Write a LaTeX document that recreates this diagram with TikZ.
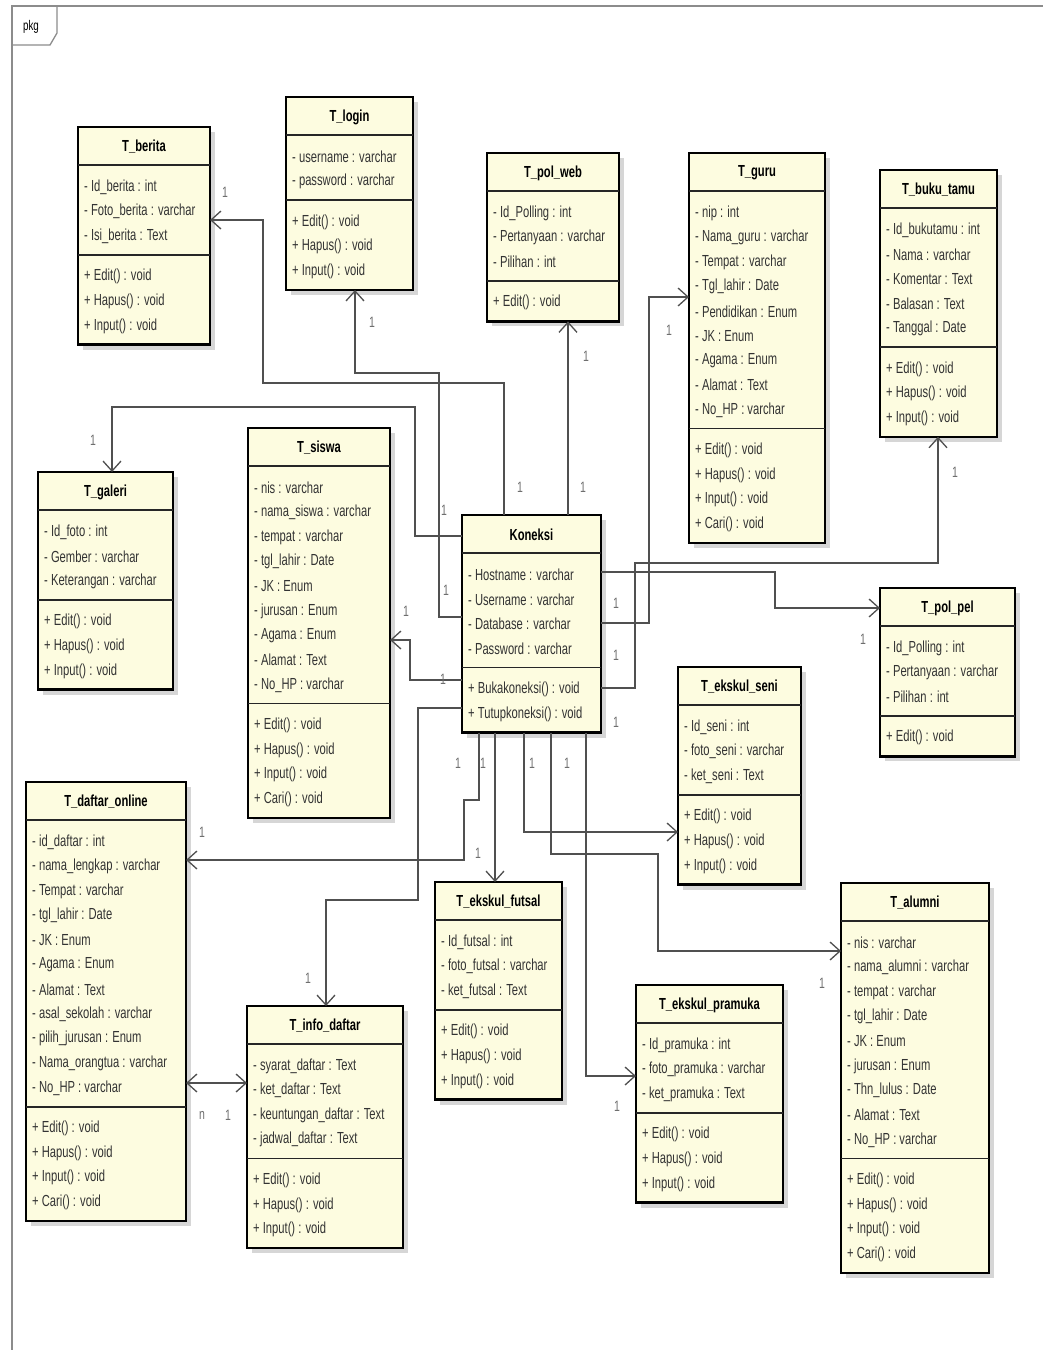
\documentclass[tikz,border=0pt]{standalone}
\usepackage{fontspec}
\setmainfont{Liberation Sans}
\newfontfamily\umlfont[FakeStretch=0.7]{Liberation Sans}
\usetikzlibrary{arrows.meta}
\definecolor{boxfill}{RGB}{253,252,224}
\definecolor{linec}{RGB}{80,80,80}
\definecolor{labc}{RGB}{110,110,110}
\definecolor{framec}{RGB}{140,140,140}
\tikzset{
  classbox/.style={draw=black, line width=2.4pt, fill=boxfill, rectangle, inner sep=0pt, outer sep=0pt},
  divline/.style={draw=black!85, line width=1.8pt},
  titletext/.style={font=\umlfont\fontsize{16}{18}\selectfont\bfseries, text=black, inner sep=0pt},
  itemtext/.style={font=\umlfont\fontsize{16}{18}\selectfont, text=black!80, anchor=west, inner sep=0pt},
  assoc/.style={draw=linec, line width=1.3pt, -{Straight Barb[length=10pt,width=18pt,line width=1.3pt]}},
  biassoc/.style={draw=linec, line width=1.3pt, {Straight Barb[length=10pt,width=18pt,line width=1.3pt]}-{Straight Barb[length=10pt,width=18pt,line width=1.3pt]}},
  mult/.style={font=\umlfont\fontsize{15}{17}\selectfont, text=labc, inner sep=0pt},
  shadowbox/.style={fill=black!16, draw=none},
  framestyle/.style={draw=framec, line width=1.3pt},
}
% #1 name, #2 x, #3 y, #4 width, #5 n attrs, #6 n methods, #7 title, #8 attrs, #9 methods
\newcommand{\umlclass}[9]{%
  \pgfmathsetmacro\cxR{#2+#4}%
  \pgfmathsetmacro\cyH{#3+38}%
  \pgfmathsetmacro\cyA{\cyH+#5*24.6+16}%
  \pgfmathsetmacro\cyB{\cyA+#6*24.6+16}%
  \pgfmathsetmacro\cht{\cyB-#3}%
  \fill[shadowbox] (#2+5,#3+5) rectangle (\cxR+5,\cyB+5);
  \node[classbox, anchor=north west, minimum width=#4pt, minimum height=\cht pt] (#1) at (#2,#3) {};
  \draw[divline] (#2,\cyH) -- (\cxR,\cyH);
  \draw[divline] (#2,\cyA) -- (\cxR,\cyA);
  \node[titletext] (#1-title) at (#2+#4/2,#3+20) {#7};
  \foreach \itm [count=\i] in {#8} {\node[itemtext] (#1-a\i) at (#2+6,\cyH+22+\i*24.6-24.6) {\itm};}
  \foreach \itm [count=\i] in {#9} {\node[itemtext] (#1-m\i) at (#2+6,\cyA+22+\i*24.6-24.6) {\itm};}
}
\begin{document}
\begin{tikzpicture}[x=1pt,y=-1pt]
\useasboundingbox (0,0) rectangle (1043,1350);
\fill[white] (0,0) rectangle (1043,1350);
% package frame
\draw[framestyle] (12,1350) -- (12,6) -- (1043,6);
\draw[framestyle] (12,45) -- (50,45) -- (57,33) -- (57,6);
\node[font=\umlfont\fontsize{14}{16}\selectfont, inner sep=0pt] (pkg) at (31,27) {pkg};

\umlclass{ber}{78}{127}{132}{3}{3}{T\_berita}
  {- Id\_berita : int, - Foto\_berita : varchar, - Isi\_berita : Text}
  {+ Edit() : void, + Hapus() : void, + Input() : void}
\umlclass{login}{286}{97}{127}{2}{3}{T\_login}
  {- username : varchar, - password : varchar}
  {+ Edit() : void, + Hapus() : void, + Input() : void}
\umlclass{polweb}{487}{153}{132}{3}{1}{T\_pol\_web}
  {- Id\_Polling : int, - Pertanyaan : varchar, - Pilihan : int}
  {+ Edit() : void}
\umlclass{guru}{689}{153}{136}{9}{4}{T\_guru}
  {- nip : int, - Nama\_guru : varchar, - Tempat : varchar, - Tgl\_lahir : Date, - Pendidikan : Enum, - JK : Enum, - Agama : Enum, - Alamat : Text, - No\_HP : varchar}
  {+ Edit() : void, + Hapus() : void, + Input() : void, + Cari() : void}
\umlclass{buku}{880}{170}{117}{5}{3}{T\_buku\_tamu}
  {- Id\_bukutamu : int, - Nama : varchar, - Komentar : Text, - Balasan : Text, - Tanggal : Date}
  {+ Edit() : void, + Hapus() : void, + Input() : void}
\umlclass{gal}{38}{472}{135}{3}{3}{T\_galeri}
  {- Id\_foto : int, - Gember : varchar, - Keterangan : varchar}
  {+ Edit() : void, + Hapus() : void, + Input() : void}
\umlclass{siswa}{248}{428}{142}{9}{4}{T\_siswa}
  {- nis : varchar, - nama\_siswa : varchar, - tempat : varchar, - tgl\_lahir : Date, - JK : Enum, - jurusan : Enum, - Agama : Enum, - Alamat : Text, - No\_HP : varchar}
  {+ Edit() : void, + Hapus() : void, + Input() : void, + Cari() : void}
\umlclass{kon}{462}{515}{139}{4}{2}{Koneksi}
  {- Hostname : varchar, - Username : varchar, - Database : varchar, - Password : varchar}
  {+ Bukakoneksi() : void, + Tutupkoneksi() : void}
\umlclass{polpel}{880}{588}{135}{3}{1}{T\_pol\_pel}
  {- Id\_Polling : int, - Pertanyaan : varchar, - Pilihan : int}
  {+ Edit() : void}
\umlclass{seni}{678}{667}{123}{3}{3}{T\_ekskul\_seni}
  {- Id\_seni : int, - foto\_seni : varchar, - ket\_seni : Text}
  {+ Edit() : void, + Hapus() : void, + Input() : void}
\umlclass{daftar}{26}{782}{160}{11}{4}{T\_daftar\_online}
  {- id\_daftar : int, - nama\_lengkap : varchar, - Tempat : varchar, - tgl\_lahir : Date, - JK : Enum, - Agama : Enum, - Alamat : Text, - asal\_sekolah : varchar, - pilih\_jurusan : Enum, - Nama\_orangtua : varchar, - No\_HP : varchar}
  {+ Edit() : void, + Hapus() : void, + Input() : void, + Cari() : void}
\umlclass{futsal}{435}{882}{127}{3}{3}{T\_ekskul\_futsal}
  {- Id\_futsal : int, - foto\_futsal : varchar, - ket\_futsal : Text}
  {+ Edit() : void, + Hapus() : void, + Input() : void}
\umlclass{info}{247}{1006}{156}{4}{3}{T\_info\_daftar}
  {- syarat\_daftar : Text, - ket\_daftar : Text, - keuntungan\_daftar : Text, - jadwal\_daftar : Text}
  {+ Edit() : void, + Hapus() : void, + Input() : void}
\umlclass{pramuka}{636}{985}{147}{3}{3}{T\_ekskul\_pramuka}
  {- Id\_pramuka : int, - foto\_pramuka : varchar, - ket\_pramuka : Text}
  {+ Edit() : void, + Hapus() : void, + Input() : void}
\umlclass{alumni}{841}{883}{148}{9}{4}{T\_alumni}
  {- nis : varchar, - nama\_alumni : varchar, - tempat : varchar, - tgl\_lahir : Date, - JK : Enum, - jurusan : Enum, - Thn\_lulus : Date, - Alamat : Text, - No\_HP : varchar}
  {+ Edit() : void, + Hapus() : void, + Input() : void, + Cari() : void}

% connectors
\draw[assoc] (504,0 |- kon.north) -- (504,383) -- (263,383) -- (263,220) -- (ber.east |- 0,220);
\draw[assoc] (kon.west |- 0,617) -- (439,617) -- (439,373) -- (355,373) -- (355,0 |- login.south);
\draw[assoc] (kon.west |- 0,536) -- (415,536) -- (415,407) -- (112,407) -- (112,0 |- gal.north);
\draw[assoc] (568,0 |- kon.north) -- (568,0 |- polweb.south);
\draw[assoc] (kon.east |- 0,623) -- (649,623) -- (649,297) -- (guru.west |- 0,297);
\draw[assoc] (kon.east |- 0,688) -- (635,688) -- (635,563) -- (938,563) -- (938,0 |- buku.south);
\draw[assoc] (kon.east |- 0,572) -- (775,572) -- (775,608) -- (polpel.west |- 0,608);
\draw[assoc] (kon.west |- 0,680) -- (410,680) -- (410,640) -- (siswa.east |- 0,640);
\draw[assoc] (kon.west |- 0,708) -- (418,708) -- (418,900) -- (326,900) -- (326,0 |- info.north);
\draw[assoc] (479,0 |- kon.south) -- (479,800) -- (464,800) -- (464,860) -- (daftar.east |- 0,860);
\draw[assoc] (495,0 |- kon.south) -- (495,0 |- futsal.north);
\draw[assoc] (524,0 |- kon.south) -- (524,832) -- (seni.west |- 0,832);
\draw[assoc] (551,0 |- kon.south) -- (551,854) -- (658,854) -- (658,951) -- (alumni.west |- 0,951);
\draw[assoc] (586,0 |- kon.south) -- (586,1076) -- (pramuka.west |- 0,1076);
\draw[biassoc] (daftar.east |- 0,1083) -- (info.west |- 0,1083);

% multiplicities
\node[mult] (m1) at (225,192) {1};
\node[mult] (m2) at (520,487) {1};
\node[mult] (m3) at (372,322) {1};
\node[mult] (m4) at (446,590) {1};
\node[mult] (m5) at (93,440) {1};
\node[mult] (m6) at (444,510) {1};
\node[mult] (m7) at (586,356) {1};
\node[mult] (m8) at (583,487) {1};
\node[mult] (m9) at (669,330) {1};
\node[mult] (m10) at (616,603) {1};
\node[mult] (m11) at (955,472) {1};
\node[mult] (m12) at (616,655) {1};
\node[mult] (m13) at (863,639) {1};
\node[mult] (m14) at (616,722) {1};
\node[mult] (m15) at (406,611) {1};
\node[mult] (m16) at (443,679) {1};
\node[mult] (m17) at (308,978) {1};
\node[mult] (m18) at (202,832) {1};
\node[mult] (m19) at (458,763) {1};
\node[mult] (m20) at (478,853) {1};
\node[mult] (m21) at (483,763) {1};
\node[mult] (m22) at (532,763) {1};
\node[mult] (m23) at (822,983) {1};
\node[mult] (m24) at (567,763) {1};
\node[mult] (m25) at (617,1106) {1};
\node[mult] (m26) at (202,1115) {n};
\node[mult] (m27) at (228,1115) {1};
\end{tikzpicture}
\end{document}
